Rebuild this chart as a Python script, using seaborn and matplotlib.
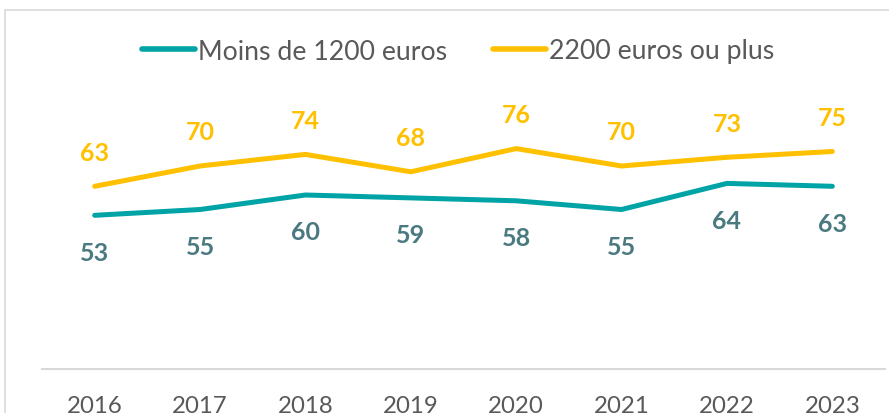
import pandas as pd
import seaborn as sns
import matplotlib.pyplot as plt
from matplotlib.patches import Rectangle

years = ['2016', '2017', '2018', '2019', '2020', '2021', '2022', '2023']
low_income = [53, 55, 60, 59, 58, 55, 64, 63]
high_income = [63, 70, 74, 68, 76, 70, 73, 75]
series_names = ['Moins de 1200 euros', '2200 euros ou plus']

teal = '#00A3A6'
teal_label = '#4A7A80'
gold = '#FFC000'

df = pd.DataFrame({
    'year': years * 2,
    'value': low_income + high_income,
    'series': [series_names[0]] * len(years) + [series_names[1]] * len(years),
})

sns.set_style('white')
plt.rcParams['font.family'] = ['Lato', 'DejaVu Sans']

fig = plt.figure(figsize=(8.89, 4.14), dpi=100)
ax = fig.add_axes([42 / 889, 44 / 414, 843 / 889, 290 / 414])

sns.lineplot(data=df, x='year', y='value', hue='series',
             palette={series_names[0]: teal, series_names[1]: gold},
             linewidth=3.6, ax=ax, sort=False)
for line in ax.lines:
    line.set_solid_capstyle('round')

ax.set_xlim(-0.5, len(years) - 0.5)
ax.set_ylim(0, 100)

# data labels
for i, v in enumerate(low_income):
    ax.annotate(str(v), (i, v), xytext=(0, -37), textcoords='offset pixels',
                ha='center', va='center', fontsize=18, fontweight='bold',
                color=teal_label)
for i, v in enumerate(high_income):
    ax.annotate(str(v), (i, v), xytext=(0, 34), textcoords='offset pixels',
                ha='center', va='center', fontsize=18, fontweight='bold',
                color=gold)

for s in ['top', 'right', 'left']:
    ax.spines[s].set_visible(False)
ax.spines['bottom'].set_color('#D9D9D9')
ax.spines['bottom'].set_linewidth(1.5)
ax.set_yticks([])
ax.set_xlabel('')
ax.set_ylabel('')
ax.tick_params(axis='x', length=0, pad=19, labelsize=17.3, labelcolor='#595959')

leg = ax.legend(loc='center', bbox_to_anchor=(458 / 889, 1 - 52 / 414),
                bbox_transform=fig.transFigure, ncol=2, frameon=False,
                fontsize=19.2, handlelength=2.0, handletextpad=0.1,
                columnspacing=1.7, labelcolor='#595959')
for h in leg.get_lines():
    h.set_linewidth(4)
    h.set_solid_capstyle('round')

# chart border
fig.add_artist(Rectangle((5 / 889, -0.1), 1.0, 1 - 11 / 414 + 0.1,
                         transform=fig.transFigure, fill=False,
                         edgecolor='#D9D9D9', linewidth=1.2))

fig.savefig('out.png', dpi=100)
